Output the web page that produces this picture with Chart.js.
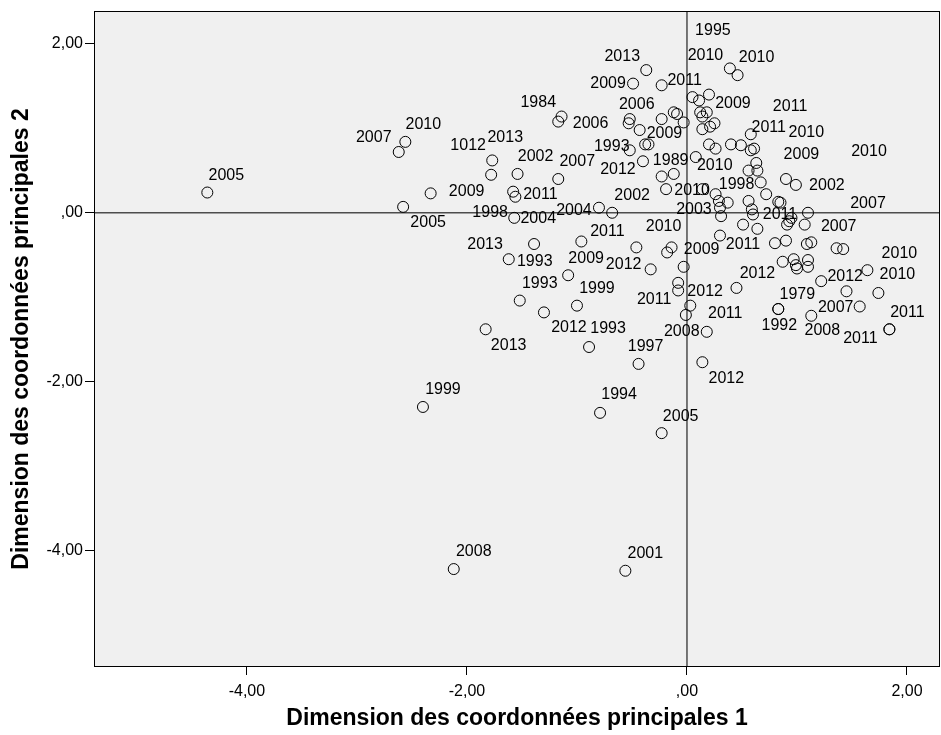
<!DOCTYPE html>
<html><head><meta charset="utf-8">
<script src="https://cdn.jsdelivr.net/npm/chart.js@4.4.0/dist/chart.umd.min.js"></script>
<style>html,body{margin:0;padding:0;background:#fff;}#wrap{width:941px;height:735px;}</style>
</head><body><div id="wrap"><canvas id="c" width="941" height="735"></canvas></div>
<script>
// ---- data ----
const dim1 = [
 -4.36,-2.56,-2.62,-2.33,-2.58,-1.77,-1.78,-1.54,-1.17,-1.58,
 -1.56,-1.57,-1.39,-1.62,-1.08,-1.52,-1.30,-1.83,-1.00,-0.89,
 -0.44,-0.79,-0.23,-2.40,-2.12,-0.56,-0.96,-0.80,-0.68,-0.46,
 -0.33,-0.14,-0.18,-0.03,-0.08,-0.08, 0.03,-0.01, 0.18, 0.14,
  0.45, 0.30, 0.51, 0.64, 0.80, 0.90, 1.09, 1.13, 1.36, 1.42,
  0.87, 0.97, 0.99, 1.00, 1.10, 1.10, 1.22, 1.64, 1.74, 1.45,
  1.57, 0.83, 0.83, 1.13, 1.84, 1.84, 0.90, 0.99, 0.85, 0.83,
  1.10, 1.07, 0.95, 0.93, 0.91, 0.56, 0.64, 0.67, 0.72, 0.56,
  0.59, 0.60, 0.14, 0.26, 0.29, 0.37, 0.30, 0.31,-0.19,-0.23,
 -0.12,-0.40,-0.52,-0.38,-0.35,-0.43,-0.52,-0.53,-0.23,-0.12,
 -0.09,-0.03,-1.14,-1.17,-0.37,-0.49,-0.23, 0.39, 0.46, 0.05,
  0.11, 0.20, 0.12, 0.18, 0.14, 0.14, 0.21, 0.25, 0.20, 0.26,
  0.40, 0.49, 0.58, 0.61, 0.58, 0.63, 0.08
];
const dim2 = [
  0.24, 0.84, 0.72, 0.23, 0.07, 0.62, 0.45, 0.46, 0.40, 0.25,
  0.19,-0.06,-0.37,-0.55,-0.74,-1.04,-1.18,-1.38,-1.10,-1.59,
 -1.79,-2.37,-2.61,-2.30,-4.22,-4.24,-0.34, 0.06, 0.00,-0.41,
 -0.67,-0.41,-0.47,-0.64,-0.83,-0.92,-1.10,-1.21,-1.41,-1.77,
 -0.89,-0.27,-0.14,-0.19,-0.36,-0.33,-0.37,-0.35,-0.42,-0.43,
 -0.58,-0.55,-0.62,-0.66,-0.56,-0.64,-0.81,-0.68,-0.95,-0.93,
 -1.11,-1.14,-1.14,-1.22,-1.38,-1.38, 0.40, 0.33, 0.12, 0.13,
  0.00,-0.14,-0.06,-0.10,-0.14, 0.50, 0.50, 0.36, 0.22, 0.14,
  0.04,-0.02, 0.28, 0.22, 0.14, 0.12, 0.06,-0.04, 0.28, 0.43,
  0.46, 0.61, 0.74, 0.81, 0.81, 0.98, 1.11, 1.06, 1.11, 1.19,
  1.17, 1.07, 1.14, 1.08, 1.69, 1.53, 1.51, 1.71, 1.63, 1.37,
  1.33, 1.40, 1.19, 1.19, 1.14, 0.99, 1.02, 1.06, 0.81, 0.76,
  0.81, 0.80, 0.74, 0.76, 0.93, 0.59, 0.66
];
const yearLabels = [
 '2005','2010','2007','2009','2005','2013','1012','2002','2007','1998',
 '2011','2004','2013','1993','2009','1993','2012','2013','1999','1993',
 '1997','1994','2005','1999','2008','2001','2011','2004','2002','',
 '2012','2010','','2009','2011','2012','2011','','2008','2012',
 '2012','2011','','','','','','','','',
 '','','','','','','2012','2010','2010','',
 '2007','1979','1992','2008','2011','2011','2010','2002','','',
 '2007','2007','','','','','2009','','','',
 '','2011','','1998','','','2003','','2010','1989',
 '','2012','1993','','2009','','2006','','','',
 '','','2006','1984','2013','2009','2011','1995','2010','2010',
 '','2009','','','','','','','','',
 '','','','2011','2011','2010','2010'
];
const tickValues = [-4, -2, 0, 2];
const xTitle = 'Dimension des coordonnées principales 1';
const yTitle = 'Dimension des coordonnées principales 2';

// ---- layout only: label centre offset from its point, in pixels ----
const labelOffsets = [
 [19,-17],[18,-17],[-25,-14],[36,-2],[25,16],[13,-23],[-23,-29],[18,-17],[19,-17],[-23,21],
 [25,-2],[24,1],[-49,1],[26,2],[18,-17],[20,-17],[25,15],[23,16],[20,-17],[19,-18],
 [7,-17],[19,-18],[19,-17],[20,-17],[20,-17],[20,-17],[26,-10],[-25,3],[20,-17],null,
 [-27,-5],[-8,-21],null,[18,-17],[-24,17],[27,1],[35,8],null,[-25,0],[24,16],
 [21,-14],[23,9],null,null,null,null,null,null,null,null,
 null,null,null,null,null,null,[24,-5],[32,-17],[19,-18],null,
 [-24,1],[19,-14],[1,17],[11,15],[18,-17],[-29,9],[83,-27],[31,1],null,null,
 [60,-9],[34,2],null,null,null,null,[44,-16],null,null,null,
 null,[27,0],null,[21,-10],null,null,[-26,2],null,[26,1],[9,-16],
 null,[-25,8],[-18,-4],null,[16,-11],null,[7,-14],null,null,null,
 null,null,[29,7],[-20,-19],[-24,-14],[-25,0],[23,-5],[-17,-38],[19,-18],[13,-42],
 null,[24,9],null,null,null,null,null,null,null,null,
 null,null,null,[36,-42],[18,-7],[50,-30],[19,9]
];

const FONT = '"Liberation Sans", Arial, Helvetica, sans-serif';
Chart.defaults.font.family = FONT;
Chart.defaults.color = '#000';

const fmt = v => (Math.abs(v) < 1e-9 ? ',00' : v.toFixed(2).replace('.', ','));

const decor = {
  id: 'decor',
  beforeDraw(chart) {
    const {ctx, chartArea: a} = chart;
    ctx.save();
    ctx.fillStyle = '#f0f0f0';
    ctx.fillRect(a.left, a.top, a.right - a.left, a.bottom - a.top);
    ctx.restore();
  },
  beforeDatasetsDraw(chart) {
    const {ctx, chartArea: a, scales: {x, y}} = chart;
    const x0 = x.getPixelForValue(0), y0 = y.getPixelForValue(0);
    ctx.save();
    ctx.strokeStyle = '#4d4d4d';
    ctx.lineWidth = 1.5;
    ctx.beginPath();
    ctx.moveTo(x0, a.top); ctx.lineTo(x0, a.bottom);
    ctx.moveTo(a.left, y0); ctx.lineTo(a.right, y0);
    ctx.stroke();
    ctx.restore();
  },
  afterDatasetsDraw(chart) {
    const {ctx, chartArea: a} = chart;
    const meta = chart.getDatasetMeta(0);
    ctx.save();
    ctx.font = '16px ' + FONT;
    ctx.fillStyle = '#000';
    ctx.textAlign = 'center';
    ctx.textBaseline = 'middle';
    meta.data.forEach((pt, i) => {
      const t = yearLabels[i];
      const off = labelOffsets[i];
      if (!t || !off) return;
      ctx.fillText(t, pt.x + off[0], pt.y + off[1]);
    });
    ctx.strokeStyle = '#000';
    ctx.lineWidth = 1;
    ctx.strokeRect(Math.round(a.left) + 0.5, Math.round(a.top) + 0.5,
                   Math.round(a.right - a.left) - 1, Math.round(a.bottom - a.top) - 1);
    ctx.restore();
  }
};

new Chart(document.getElementById('c'), {
  type: 'scatter',
  data: {
    datasets: [{
      data: dim1.map((v, i) => ({x: v, y: dim2[i]})),
      pointStyle: 'circle',
      pointRadius: 5.5,
      pointBorderWidth: 1,
      pointBorderColor: '#000',
      pointBackgroundColor: 'rgba(0,0,0,0)'
    }]
  },
  options: {
    responsive: false,
    devicePixelRatio: 1,
    animation: false,
    events: [],
    layout: {autoPadding: false, padding: {top: 11, right: 1, left: 0, bottom: 0}},
    plugins: {legend: {display: false}, tooltip: {enabled: false}},
    scales: {
      x: {
        type: 'linear', min: -5.39, max: 2.30,
        afterFit: s => { s.height = 68; s.paddingLeft = 0; s.paddingRight = 0; },
        afterBuildTicks: s => { s.ticks = tickValues.map(v => ({value: v})); },
        ticks: {callback: v => fmt(v), font: {size: 16}, color: '#000', padding: 7, maxRotation: 0, autoSkip: false},
        grid: {display: true, drawOnChartArea: false, drawTicks: true, tickLength: 8, color: '#000', lineWidth: 1},
        border: {display: false},
        title: {display: true, text: xTitle, font: {size: 23, weight: 'bold'}, color: '#000', padding: {top: 0, bottom: 3}}
      },
      y: {
        type: 'linear', min: -5.38, max: 2.39,
        afterFit: s => { s.width = 94; s.paddingTop = 0; s.paddingBottom = 0; },
        afterBuildTicks: s => { s.ticks = tickValues.map(v => ({value: v})); },
        ticks: {callback: v => fmt(v), font: {size: 16}, color: '#000', padding: 2, autoSkip: false},
        grid: {display: true, drawOnChartArea: false, drawTicks: true, tickLength: 9, color: '#000', lineWidth: 1},
        border: {display: false},
        title: {display: true, text: yTitle, font: {size: 23, weight: 'bold'}, color: '#000', padding: {top: 8, bottom: 0}}
      }
    }
  },
  plugins: [decor]
});
</script>
</body></html>
